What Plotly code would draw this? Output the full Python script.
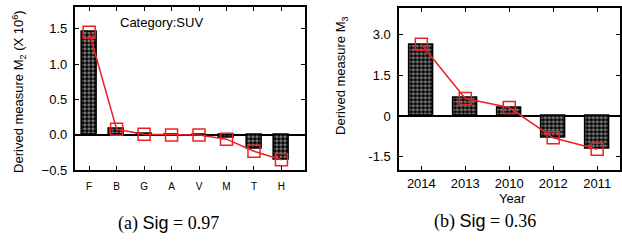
import plotly.graph_objects as go

W, H = 622, 248

# Left panel data (Category: SUV)
cats_a = ["F", "B", "G", "A", "V", "M", "T", "H"]
bars_a = [1.45, 0.08, 0.01, 0.0, 0.0, -0.04, -0.19, -0.35]
line_a = [1.45, 0.08, 0.01, 0.0, 0.0, -0.06, -0.23, -0.35]
yticks_a = [-0.5, 0.0, 0.5, 1.0, 1.5]

# Right panel data (Year)
cats_b = ["2014", "2013", "2010", "2012", "2011"]
bars_b = [2.65, 0.69, 0.32, -0.81, -1.21]
line_b = [2.65, 0.65, 0.32, -0.80, -1.22]
yticks_b = [-1.5, 0, 1.5, 3.0]
yticklabels_b = ["-1.5", "0", "1.5", "3.0"]

RED = "rgb(238,32,36)"
SANS = "Liberation Sans"
SERIF = "Liberation Serif"


def px_x(p):
    return p / W


def px_y(p):
    return 1 - p / H


fig = go.Figure()

pattern = dict(shape=".", fgcolor="white", bgcolor="black", size=4, solidity=0.5)

fig.add_trace(go.Bar(x=cats_a, y=bars_a, width=0.54, xaxis="x", yaxis="y",
                     marker=dict(color="black", pattern=pattern,
                                 line=dict(color="black", width=1.5)),
                     showlegend=False))
fig.add_trace(go.Scatter(x=cats_a, y=line_a, xaxis="x", yaxis="y", mode="lines+markers",
                         line=dict(color=RED, width=1.5),
                         marker=dict(symbol="square-open", size=12, color=RED,
                                     line=dict(color=RED, width=1.5)),
                         showlegend=False))
fig.add_trace(go.Bar(x=cats_b, y=bars_b, width=0.55, xaxis="x2", yaxis="y2",
                     marker=dict(color="black", pattern=pattern,
                                 line=dict(color="black", width=1.5)),
                     showlegend=False))
fig.add_trace(go.Scatter(x=cats_b, y=line_b, xaxis="x2", yaxis="y2", mode="lines+markers",
                         line=dict(color=RED, width=1.5),
                         marker=dict(symbol="square-open", size=12, color=RED,
                                     line=dict(color=RED, width=1.5)),
                         showlegend=False))

axis_common = dict(showline=True, linecolor="black", linewidth=2, mirror="ticks",
                   ticks="inside", ticklen=4, tickcolor="black", tickwidth=1.2,
                   showgrid=False, fixedrange=True)

fig.update_layout(
    width=W, height=H,
    margin=dict(l=0, r=0, t=0, b=0),
    paper_bgcolor="white", plot_bgcolor="white",
    font=dict(family=SANS, color="black", size=13),
    bargap=0,
    xaxis=dict(domain=[px_x(75), px_x(305)], anchor="y", range=[-0.52, 7.84],
               tickfont=dict(size=10), ticklabelstandoff=6, **axis_common),
    yaxis=dict(domain=[px_y(176), px_y(7)], anchor="x", range=[-0.5, 1.81],
               tickvals=yticks_a, tickformat=".1f", tickfont=dict(size=13),
               ticklabelstandoff=3,
               zeroline=True, zerolinecolor="black", zerolinewidth=1.5,
               **axis_common),
    xaxis2=dict(domain=[px_x(400), px_x(621)], anchor="y2", range=[-0.5, 4.52],
                tickfont=dict(size=13), ticklabelstandoff=0, **axis_common),
    yaxis2=dict(domain=[px_y(176), px_y(8)], anchor="x2", range=[-2.0, 4.0],
                tickvals=yticks_b, ticktext=yticklabels_b, tickfont=dict(size=13),
                ticklabelstandoff=4,
                zeroline=True, zerolinecolor="black", zerolinewidth=1.5,
                **axis_common),
)

ann = []
ann.append(dict(x=px_x(162), y=px_y(23), text="Category:SUV", showarrow=False,
                font=dict(size=13)))
ann.append(dict(x=px_x(19), y=px_y(94), text="Derived measure M<sub>2</sub> (X 10<sup>6</sup>)",
                textangle=-90, showarrow=False, font=dict(size=13)))
ann.append(dict(x=px_x(342), y=px_y(78), text="Derived measure M<sub>3</sub>",
                textangle=-90, showarrow=False, font=dict(size=13)))
ann.append(dict(x=px_x(513), y=px_y(205), text="Year", showarrow=False,
                font=dict(size=13)))
ann.append(dict(x=px_x(169), y=px_y(231),
                text=f"<span style='font-family:{SERIF}'>(a) </span>Sig<span style='font-family:{SERIF}'> = 0.97</span>",
                showarrow=False, font=dict(size=18)))
ann.append(dict(x=px_x(486), y=px_y(229),
                text=f"<span style='font-family:{SERIF}'>(b) </span>Sig<span style='font-family:{SERIF}'> = 0.36</span>",
                showarrow=False, font=dict(size=18)))
for a in ann:
    a.update(xref="paper", yref="paper", xanchor="center", yanchor="middle")
fig.update_layout(annotations=ann)

fig.write_html("out.html", config={"displayModeBar": False},
               post_script="document.body.style.margin='0';document.body.style.overflow='hidden';")
